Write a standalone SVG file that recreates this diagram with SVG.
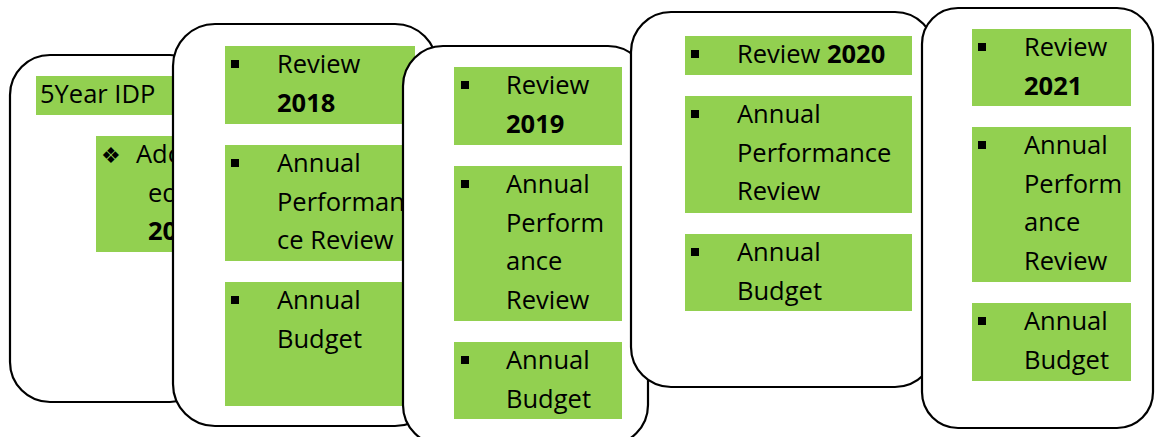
<svg xmlns="http://www.w3.org/2000/svg" width="1155" height="437" viewBox="0 0 1155 437">
  <style>
    .box { fill: #ffffff; stroke: #000000; stroke-width: 2.2; }
    .hl { fill: #92D050; }
    .t { font-family: "Open Sans", "Liberation Sans", sans-serif; font-size: 25.5px; fill: #000000; }
    .b { font-weight: bold; }
    .sym { font-family: "DejaVu Sans", sans-serif; font-size: 22px; fill: #000000; }
    .dot { fill: #000000; }
  </style>
  <rect width="1155" height="437" fill="#ffffff"/>

  <!-- connectors: none, the cards simply overlap -->
  <g id="connectors"/>

  <!-- five-year plan card -->
  <g id="idp">
    <rect class="box" x="10" y="55" width="200" height="347" rx="40" ry="40"/>
    <rect class="hl" x="36" y="76" width="150" height="39"/>
    <text class="t" x="40" y="103">5Year IDP</text>
    <rect class="hl" x="96" y="136" width="110" height="116"/>
    <text class="sym" x="101" y="163">❖</text>
    <text class="t" x="136" y="163">Adopt</text>
    <text class="t" x="148" y="201.5">ed</text>
    <text class="t b" x="148" y="240">2017</text>
  </g>

  <!-- 2018 card -->
  <g id="y2018">
    <rect class="box" x="173" y="24" width="264" height="402" rx="42" ry="42"/>
    <rect class="hl" x="225" y="46" width="190" height="78"/>
    <rect class="hl" x="225" y="145" width="190" height="116"/>
    <rect class="hl" x="225" y="282" width="190" height="124"/>
    <rect class="dot" x="231" y="60" width="8" height="8"/>
    <rect class="dot" x="231" y="159" width="8" height="8"/>
    <rect class="dot" x="231" y="296" width="8" height="8"/>
    <text class="t" x="277" y="73">Review</text>
    <text class="t b" x="277" y="111.5">2018</text>
    <text class="t" x="277" y="172">Annual</text>
    <text class="t" x="277" y="210.5">Performan</text>
    <text class="t" x="277" y="249">ce Review</text>
    <text class="t" x="277" y="309">Annual</text>
    <text class="t" x="277" y="347.5">Budget</text>
  </g>

  <!-- 2019 card -->
  <g id="y2019">
    <rect class="box" x="403" y="46" width="245" height="399" rx="40" ry="40"/>
    <rect class="hl" x="454" y="67" width="168" height="78"/>
    <rect class="hl" x="454" y="166" width="168" height="155"/>
    <rect class="hl" x="454" y="342" width="168" height="77"/>
    <rect class="dot" x="461" y="81" width="8" height="8"/>
    <rect class="dot" x="461" y="180" width="8" height="8"/>
    <rect class="dot" x="461" y="356" width="8" height="8"/>
    <text class="t" x="506" y="94">Review</text>
    <text class="t b" x="506" y="132.5">2019</text>
    <text class="t" x="506" y="193">Annual</text>
    <text class="t" x="506" y="231.5">Perform</text>
    <text class="t" x="506" y="270">ance</text>
    <text class="t" x="506" y="308.5">Review</text>
    <text class="t" x="506" y="369">Annual</text>
    <text class="t" x="506" y="407.5">Budget</text>
  </g>

  <!-- 2020 card -->
  <g id="y2020">
    <rect class="box" x="631" y="12" width="304" height="375" rx="40" ry="40"/>
    <rect class="hl" x="685" y="36" width="227" height="39"/>
    <rect class="hl" x="685" y="96" width="227" height="117"/>
    <rect class="hl" x="685" y="234" width="227" height="77"/>
    <rect class="dot" x="691" y="50" width="8" height="8"/>
    <rect class="dot" x="691" y="110" width="8" height="8"/>
    <rect class="dot" x="691" y="248" width="8" height="8"/>
    <text class="t" x="737" y="63">Review <tspan class="b">2020</tspan></text>
    <text class="t" x="737" y="123">Annual</text>
    <text class="t" x="737" y="161.5">Performance</text>
    <text class="t" x="737" y="200">Review</text>
    <text class="t" x="737" y="261">Annual</text>
    <text class="t" x="737" y="299.5">Budget</text>
  </g>

  <!-- 2021 card -->
  <g id="y2021">
    <rect class="box" x="922" y="8" width="231" height="420" rx="36" ry="36"/>
    <rect class="hl" x="972" y="29" width="159" height="77"/>
    <rect class="hl" x="972" y="127" width="159" height="155"/>
    <rect class="hl" x="972" y="303" width="159" height="78"/>
    <rect class="dot" x="978" y="43" width="8" height="8"/>
    <rect class="dot" x="978" y="141" width="8" height="8"/>
    <rect class="dot" x="978" y="317" width="8" height="8"/>
    <text class="t" x="1024" y="56">Review</text>
    <text class="t b" x="1024" y="94.5">2021</text>
    <text class="t" x="1024" y="154">Annual</text>
    <text class="t" x="1024" y="192.5">Perform</text>
    <text class="t" x="1024" y="231">ance</text>
    <text class="t" x="1024" y="269.5">Review</text>
    <text class="t" x="1024" y="330">Annual</text>
    <text class="t" x="1024" y="368.5">Budget</text>
  </g>
</svg>
